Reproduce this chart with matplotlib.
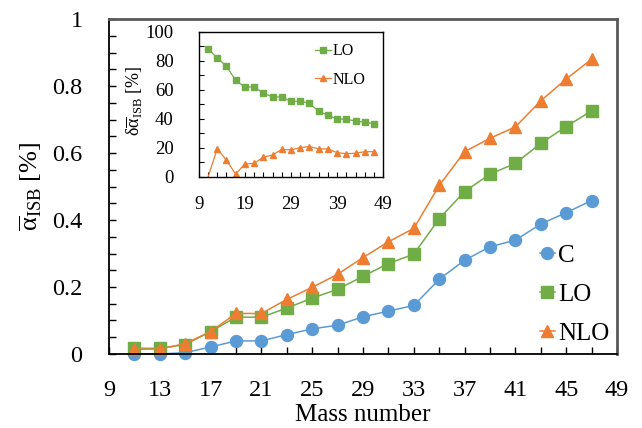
import matplotlib
matplotlib.use("Agg")
import matplotlib.pyplot as plt
from matplotlib.ticker import MultipleLocator, FixedLocator, FuncFormatter
import numpy as np

plt.rcParams['font.family'] = ['Liberation Serif', 'DejaVu Serif']
plt.rcParams['mathtext.fontset'] = 'custom'
plt.rcParams['mathtext.rm'] = 'Liberation Serif'
plt.rcParams['mathtext.it'] = 'Liberation Serif:italic'
plt.rcParams['mathtext.default'] = 'regular'

# ---- data ----
mass = [11, 13, 15, 17, 19, 21, 23, 25, 27, 29, 31, 33, 35, 37, 39, 41, 43, 45, 47]
alpha_C = [0.0, 0.0, 0.004, 0.021, 0.039, 0.039, 0.058, 0.075, 0.086, 0.111,
           0.128, 0.145, 0.223, 0.280, 0.320, 0.340, 0.388, 0.422, 0.458]
alpha_LO = [0.017, 0.017, 0.028, 0.067, 0.110, 0.110, 0.137, 0.167, 0.193, 0.232,
            0.270, 0.298, 0.404, 0.485, 0.537, 0.569, 0.629, 0.679, 0.726]
alpha_NLO = [0.014, 0.015, 0.031, 0.067, 0.121, 0.121, 0.163, 0.199, 0.238, 0.288,
             0.335, 0.375, 0.503, 0.604, 0.644, 0.678, 0.756, 0.821, 0.880]
delta_LO = [88.2, 82.0, 76.2, 66.5, 61.9, 61.9, 57.7, 55.0, 55.0, 52.0,
            52.0, 50.8, 45.0, 42.5, 39.7, 39.7, 38.3, 37.6, 36.5]
delta_NLO = [-0.5, 19.2, 11.5, 1.8, 8.8, 9.2, 13.4, 15.0, 18.9, 18.5,
             20.1, 20.8, 19.2, 19.2, 16.6, 15.9, 16.2, 17.3, 17.3]
series_names = ['C', 'LO', 'NLO']
main_xticks = [9, 13, 17, 21, 25, 29, 33, 37, 41, 45, 49]
inset_xticks = [9, 19, 29, 39, 49]

c_blue = '#5B9BD5'
c_green = '#70AD47'
c_orange = '#ED7D31'

fig = plt.figure(figsize=(6.42, 4.28), dpi=100)
ax = fig.add_axes([0.1698, 0.1729, 0.7913, 0.7827])

ax.plot(mass, alpha_C, '-o', color=c_blue, lw=1.1, ms=8.6, mec=c_blue, label=series_names[0], clip_on=False)
ax.plot(mass, alpha_LO, '-s', color=c_green, lw=1.1, ms=8.0, mec=c_green, label=series_names[1], clip_on=False)
ax.plot(mass, alpha_NLO, '-^', color=c_orange, lw=1.1, ms=9.0, mec=c_orange, label=series_names[2], clip_on=False)

ax.set_xlim(9, 49)
ax.set_ylim(0, 1)
ax.xaxis.set_major_locator(FixedLocator(main_xticks))
ax.xaxis.set_minor_locator(FixedLocator(np.arange(9, 50, 2)))
ax.yaxis.set_major_locator(MultipleLocator(0.2))
ax.yaxis.set_minor_locator(MultipleLocator(0.05))
ax.yaxis.set_major_formatter(FuncFormatter(lambda v, p: ('%g' % round(v, 2))))
ax.tick_params(which='both', direction='in', length=5, width=1.0, color='black')
ax.tick_params(axis='x', which='major', labelsize=17.5, pad=19)
ax.tick_params(axis='y', which='major', labelsize=17.5, pad=19)
ax.tick_params(top=False, right=False, which='both')
for s in ['left', 'bottom']:
    ax.spines[s].set_color('black')
    ax.spines[s].set_linewidth(1.3)
for s in ['top', 'right']:
    ax.spines[s].set_color('#595959')
    ax.spines[s].set_linewidth(2.0)

ax.set_xlabel('Mass number', fontsize=18)
ax.xaxis.set_label_coords(0.5, -0.148)
ax.set_ylabel(r'$\overline{\alpha}_{ISB}$ [%]', fontsize=19)
ax.yaxis.set_label_coords(-0.128, 0.5)

leg = ax.legend(loc='lower right', bbox_to_anchor=(1.02, -0.024), frameon=False, fontsize=18,
                handlelength=0.6, handletextpad=0.15, labelspacing=0.65, borderaxespad=0.3)

# ---- inset ----
ins = fig.add_axes([0.3095, 0.587, 0.2875, 0.339])
ins.plot(mass, delta_LO, '-s', color=c_green, lw=0.9, ms=4.4, mec=c_green, label='LO')
ins.plot(mass, delta_NLO, '-^', color=c_orange, lw=0.9, ms=5.0, mec=c_orange, label='NLO',
         markevery=list(range(1, len(mass))))
ins.set_xlim(9, 49)
ins.set_ylim(0, 100)
ins.xaxis.set_major_locator(FixedLocator(inset_xticks))
ins.xaxis.set_minor_locator(FixedLocator(np.arange(9, 50, 2)))
ins.yaxis.set_major_locator(MultipleLocator(20))
ins.yaxis.set_minor_locator(MultipleLocator(10))
ins.tick_params(which='both', direction='in', length=3.5, width=0.8)
ins.tick_params(axis='x', which='major', labelsize=13.5, pad=14)
ins.tick_params(axis='y', which='major', labelsize=13.5, pad=18)
for s in ins.spines.values():
    s.set_color('black')
    s.set_linewidth(1.0)
ins.set_ylabel(r'$\delta\overline{\alpha}_{ISB}$ [%]', fontsize=13)
ins.yaxis.set_label_coords(-0.29, 0.52)
ins.legend(loc='upper left', bbox_to_anchor=(0.55, 1.02), frameon=False, fontsize=11.5,
           handlelength=1.0, handletextpad=0.1, labelspacing=0.8)

fig.savefig('out.png', dpi=100)
